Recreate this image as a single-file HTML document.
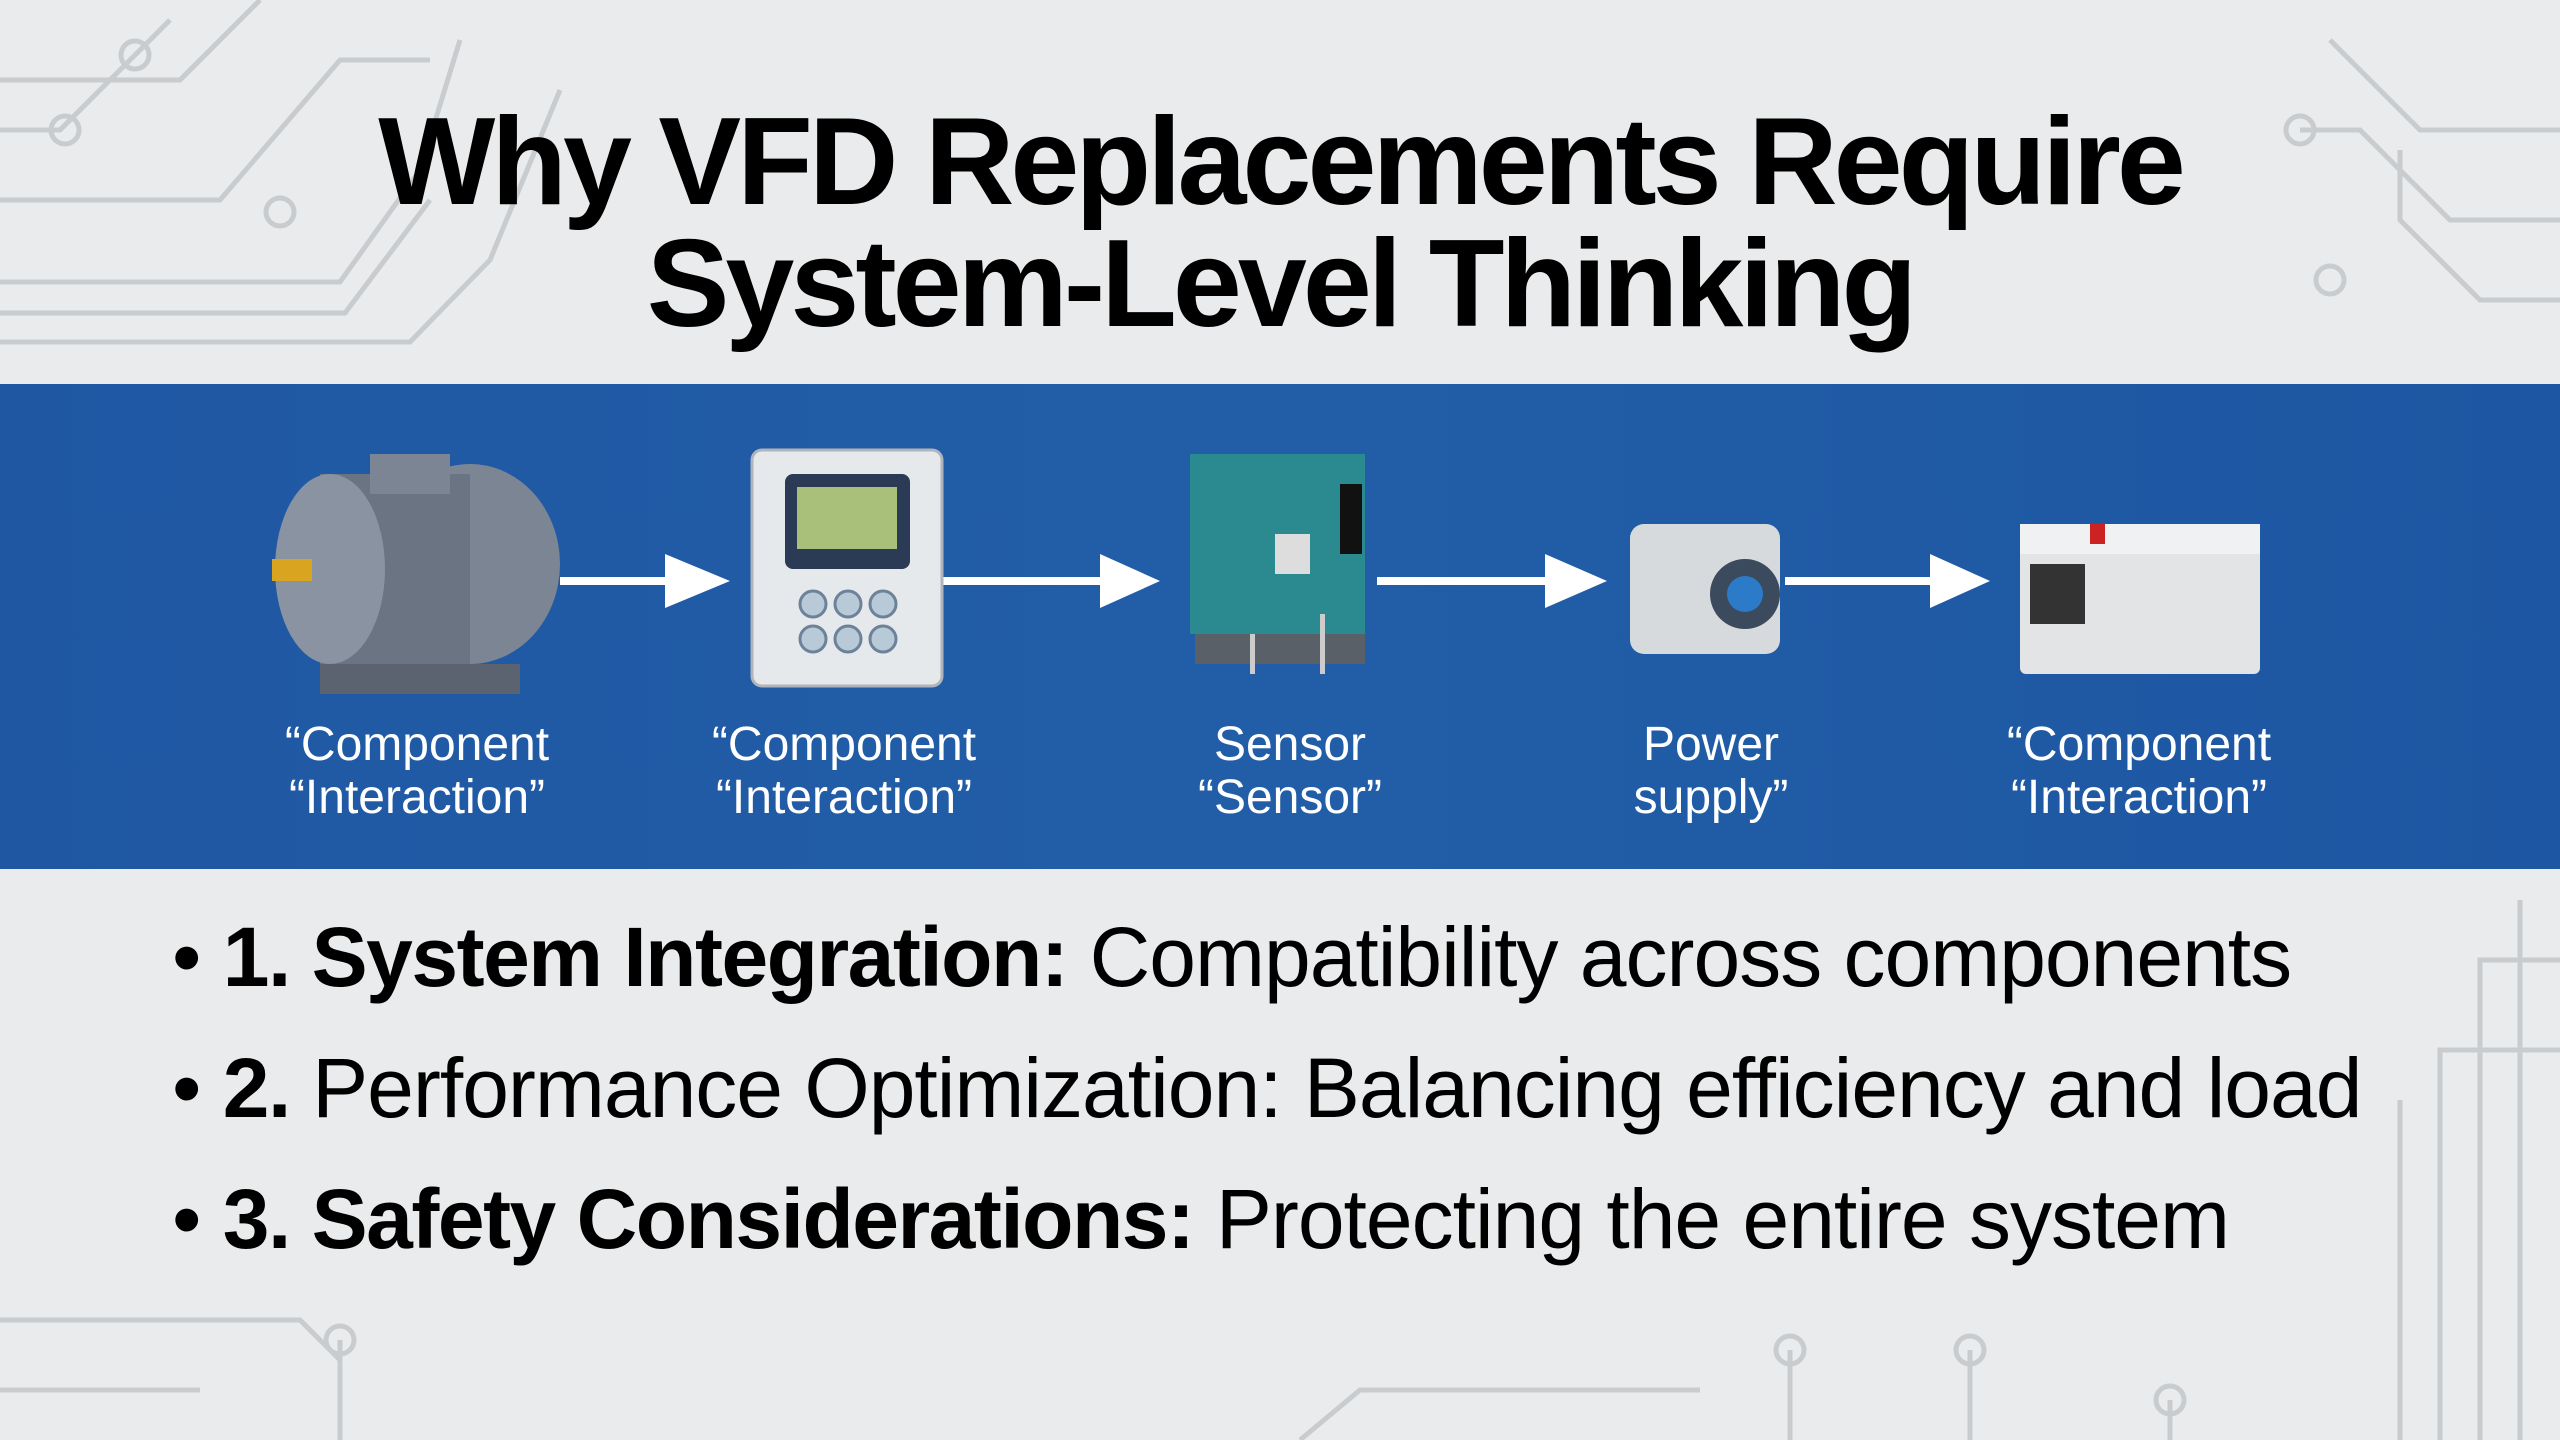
<!DOCTYPE html>
<html><head><meta charset="utf-8"><style>
html,body{margin:0;padding:0}
body{width:2560px;height:1440px;position:relative;overflow:hidden;background:#e9ebec;font-family:"Liberation Sans",sans-serif}
.t{position:absolute;left:0;width:2560px;text-align:center;font-weight:bold;color:#000;font-size:124px;letter-spacing:-4px;line-height:1}
#band{position:absolute;left:0;top:384px;width:2560px;height:485px;background:linear-gradient(90deg,#1f57a3,#225ea8 50%,#1d56a2)}
.lbl{position:absolute;width:400px;text-align:center;color:#fff;font-size:48px;line-height:53px;top:718px}
.b{position:absolute;left:172px;font-size:84px;color:#000;line-height:1;white-space:nowrap;letter-spacing:-1px}
.b b{letter-spacing:-1.5px}
</style></head><body>
<svg width="2560" height="1440" style="position:absolute;left:0;top:0" fill="none" stroke="#c9cccf" stroke-width="5">
<path d="M0 80 H180 L260 0"/><path d="M0 130 H60 L170 20"/><path d="M0 200 H220 L340 60 H430"/><path d="M0 282 H340 L420 170 L460 40"/><path d="M0 313 H345 L430 200"/><path d="M0 342 H410 L490 260 L560 90"/>
<circle cx="65" cy="130" r="14"/><circle cx="280" cy="212" r="14"/><circle cx="135" cy="55" r="14"/>
<path d="M2560 130 H2420 L2330 40"/><path d="M2560 220 H2450 L2360 130 H2300"/><path d="M2560 300 H2480 L2400 220 V150"/><circle cx="2300" cy="130" r="14"/><circle cx="2330" cy="280" r="14"/>
<path d="M2560 960 H2480 V1440"/><path d="M2560 1050 H2440 V1440"/><path d="M2520 900 V1440"/><path d="M2400 1100 V1440"/>
<path d="M0 1320 H300 L340 1360 V1440"/><path d="M0 1390 H200"/><path d="M340 1340 V1440"/><circle cx="340" cy="1340" r="14"/>
<path d="M1790 1350 V1440"/><circle cx="1790" cy="1350" r="14"/><path d="M1970 1350 V1440"/><circle cx="1970" cy="1350" r="14"/><path d="M2170 1400 V1440"/><circle cx="2170" cy="1400" r="14"/>
<path d="M1300 1440 L1360 1390 H1700"/>
</svg>
<div class="t" style="top:100px">Why VFD Replacements Require</div>
<div class="t" style="top:222px">System-Level Thinking</div>
<div id="band"></div>
<svg width="2560" height="485" style="position:absolute;left:0;top:384px">
<g fill="#fff">
<rect x="560" y="193" width="120" height="8"/><polygon points="665,170 730,197 665,224"/>
<rect x="943" y="193" width="180" height="8"/><polygon points="1100,170 1160,197 1100,224"/>
<rect x="1377" y="193" width="200" height="8"/><polygon points="1545,170 1607,197 1545,224"/>
<rect x="1785" y="193" width="150" height="8"/><polygon points="1930,170 1990,197 1930,224"/>
</g>
<rect x="320" y="280" width="200" height="30" fill="#5c6370"/>
<ellipse cx="470" cy="180" rx="90" ry="100" fill="#7b8594"/>
<rect x="320" y="90" width="150" height="190" fill="#6b7482"/>
<ellipse cx="330" cy="185" rx="55" ry="95" fill="#8a93a1"/>
<rect x="370" y="70" width="80" height="40" fill="#7b8594"/>
<rect x="272" y="175" width="40" height="22" fill="#d9a520"/>
<rect x="752" y="66" width="190" height="236" rx="10" fill="#e6e9ec" stroke="#b0b5bb" stroke-width="3"/>
<rect x="785" y="90" width="125" height="95" rx="8" fill="#2b3a55"/><rect x="797" y="103" width="100" height="62" fill="#a8c07a"/>
<g fill="#b8cad8" stroke="#6d8299" stroke-width="3"><circle cx="813" cy="220" r="13"/><circle cx="848" cy="220" r="13"/><circle cx="883" cy="220" r="13"/><circle cx="813" cy="255" r="13"/><circle cx="848" cy="255" r="13"/><circle cx="883" cy="255" r="13"/></g>
<rect x="1195" y="90" width="170" height="190" fill="#5a6068"/>
<rect x="1190" y="70" width="175" height="180" fill="#2a8a8f"/>
<rect x="1275" y="150" width="35" height="40" fill="#ddd"/><rect x="1340" y="100" width="22" height="70" fill="#111"/>
<rect x="1250" y="250" width="5" height="40" fill="#ccc"/><rect x="1320" y="230" width="5" height="60" fill="#ccc"/>
<rect x="1630" y="140" width="150" height="130" rx="14" fill="#d7dadd"/>
<circle cx="1745" cy="210" r="35" fill="#3b4a5c"/><circle cx="1745" cy="210" r="18" fill="#2c7bc8"/>
<rect x="2020" y="140" width="240" height="150" rx="6" fill="#e2e4e6"/>
<rect x="2020" y="140" width="240" height="30" fill="#f0f1f2"/>
<rect x="2090" y="140" width="15" height="20" fill="#c22"/>
<rect x="2030" y="180" width="55" height="60" fill="#333"/>
</svg>
<div class="lbl" style="left:217px">“Component<br>“Interaction”</div>
<div class="lbl" style="left:644px">“Component<br>“Interaction”</div>
<div class="lbl" style="left:1090px">Sensor<br>“Sensor”</div>
<div class="lbl" style="left:1511px">Power<br>supply”</div>
<div class="lbl" style="left:1939px">“Component<br>“Interaction”</div>
<div class="b" style="top:915px">• <b>1. System Integration:</b> Compatibility across components</div>
<div class="b" style="top:1046px">• <b>2.</b> Performance Optimization: Balancing efficiency and load</div>
<div class="b" style="top:1177px">• <b>3. Safety Considerations:</b> Protecting the entire system</div>
</body></html>
